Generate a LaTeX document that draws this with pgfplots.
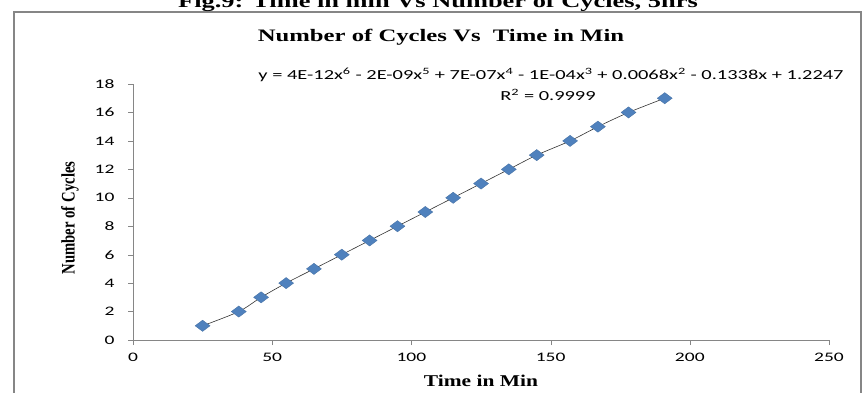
\documentclass[border=0pt]{standalone}
\usepackage{pgfplots}
\pgfplotsset{compat=1.18}
\usepackage{fontspec}
\setmainfont{Liberation Serif}
\newfontfamily\calibri{Carlito}
\definecolor{mblue}{RGB}{79,129,189}
\definecolor{axgray}{RGB}{134,134,134}
\begin{document}
\begin{tikzpicture}[x=1pt,y=1pt]
\path[use as bounding box,clip] (0,0) rectangle (862,392);
\draw[axgray,line width=1.2pt] (14,-10) -- (14,380) -- (861,380) -- (861,-10);
\node[anchor=base,font=\fontsize{18.6}{20}\selectfont\bfseries] at (438,384) {\scalebox{1.42}[1]{Fig.9: Time in min Vs Number of Cycles, 5hrs}};
\node[font=\fontsize{17.5}{20}\selectfont\bfseries] at (441,355) {\scalebox{1.41}[1]{Number of Cycles Vs\ \ Time in Min}};
\begin{axis}[
  at={(133pt,52pt)}, anchor=origin,
  scale only axis, width=696pt, height=256pt,
  xmin=0, xmax=250, ymin=0, ymax=18,
  xtick={0,50,...,250}, ytick={0,2,...,18},
  axis x line=bottom, axis y line=left,
  axis line style={axgray,-},
  tick style={axgray},
  tick align=outside, major tick length=5pt,
  /pgf/number format/assume math mode=true,
  ticklabel style={font=\calibri\fontsize{13}{15}\selectfont},
  xticklabel={\scalebox{1.5}[1]{\pgfmathprintnumber{\tick}}},
  yticklabel={\scalebox{1.5}[1]{\pgfmathprintnumber{\tick}}},
  xticklabel style={yshift=-5pt},
  yticklabel style={xshift=-10pt},
  xlabel={\scalebox{1.3}[1]{Time in Min}}, ylabel={\scalebox{1}[1.3]{Number of Cycles}},
  xlabel style={font=\fontsize{16.5}{18}\selectfont\bfseries, at={(axis description cs:0.5,0)}, anchor=center, yshift=-41pt},
  ylabel style={font=\fontsize{14.7}{17}\selectfont\bfseries, at={(axis description cs:0,0.5)}, anchor=center, yshift=63pt, xshift=-6pt},
  clip=false,
]
\addplot[black!80, line width=0.6pt, smooth, tension=0.5] coordinates {
(25,1) (38,2) (46,3) (55,4) (65,5) (75,6) (85,7) (95,8) (105,9) (115,10) (125,11) (135,12) (145,13) (157,14) (167,15) (178,16) (191,17)
};
\addplot[only marks, mark=diamond*, mark size=7.5pt, mark options={rotate=90, fill=mblue, draw=mblue!85!black, line width=0.3pt}] coordinates {
(25,1) (38,2) (46,3) (55,4) (65,5) (75,6) (85,7) (95,8) (105,9) (115,10) (125,11) (135,12) (145,13) (157,14) (167,15) (178,16) (191,17)
};
\end{axis}
\node[font=\calibri\fontsize{13.8}{16}\selectfont] at (551,317) {\scalebox{1.48}[1]{y = 4E-12x\textsuperscript{6} - 2E-09x\textsuperscript{5} + 7E-07x\textsuperscript{4} - 1E-04x\textsuperscript{3} + 0.0068x\textsuperscript{2} - 0.1338x + 1.2247}};
\node[font=\calibri\fontsize{13.8}{16}\selectfont] at (548,297) {\scalebox{1.48}[1]{R\textsuperscript{2} = 0.9999}};
\end{tikzpicture}
\end{document}
